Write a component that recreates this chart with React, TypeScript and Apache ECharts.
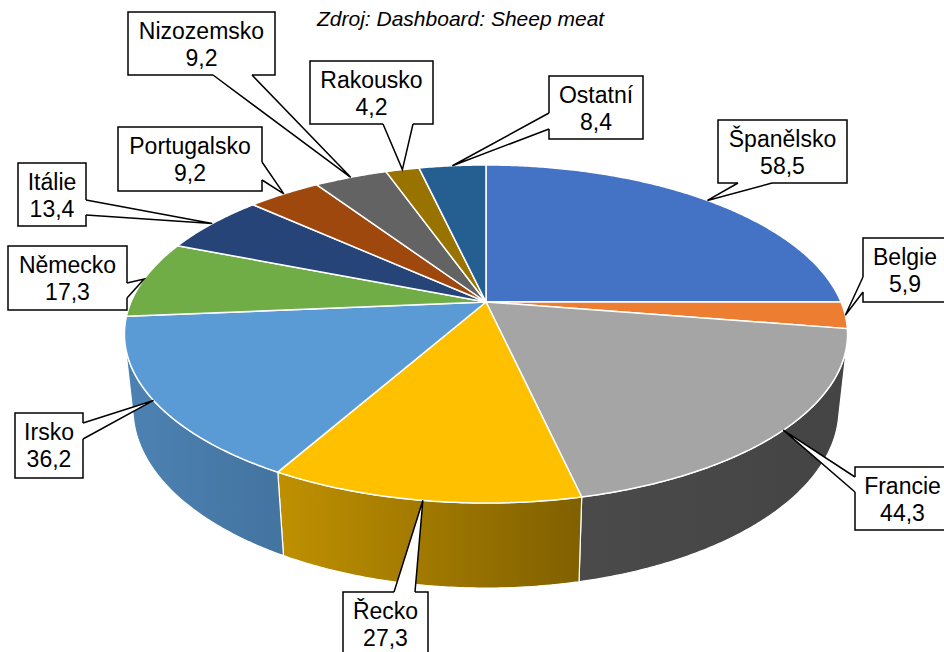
import React, { useEffect, useRef } from 'react';
import * as echarts from 'echarts';

// ---- data ----
const categories = ['Španělsko', 'Belgie', 'Francie', 'Řecko', 'Irsko', 'Německo', 'Itálie', 'Portugalsko', 'Nizozemsko', 'Rakousko', 'Ostatní'];
const values = [58.5, 5.9, 44.3, 27.3, 36.2, 17.3, 13.4, 9.2, 9.2, 4.2, 8.4];
const sourceText = 'Zdroj: Dashboard: Sheep meat';

// ---- styles ----
const colors = ['#4472C4', '#ED7D31', '#A5A5A5', '#FFC000', '#5B9BD5', '#70AD47', '#264478', '#9E480E', '#636363', '#997300', '#255E91'];
// wall shading factors [left, right]
const wallShade: Record<number, [number, number]> = {
  1: [0.5, 0.45],
  2: [0.45, 0.41],
  3: [0.75, 0.5],
  4: [0.84, 0.75],
  5: [0.88, 0.85],
};

// ---- layout (perspective projection of the pie) ----
const CX = 486, CY = 302, F = 1665, D = 4.69;
const SIN = 0.459, COS = 0.888, H = 0.24;
// visible outer-wall range (degrees clockwise from top)
const WALL_VIS = (Math.acos(-1 / (D * COS)) * 180) / Math.PI;
const WALL_LO = WALL_VIS;
const WALL_HI = 360 - WALL_VIS;

// label boxes: [x, y, w, h], side of the pointer, pointer base range along that side
const labelLayout: { box: [number, number, number, number]; side: string; base: [number, number] }[] = [
  { box: [718, 120, 129, 63], side: 'bottom', base: [738, 772] },
  { box: [863, 238, 84, 64], side: 'left', base: [277, 292] },
  { box: [855, 467, 95, 63], side: 'left', base: [477, 492] },
  { box: [343, 592, 85, 66], side: 'top', base: [394, 415] },
  { box: [15, 413, 68, 65], side: 'right', base: [423, 439] },
  { box: [8, 246, 119, 64], side: 'right', base: [283, 298] },
  { box: [18, 163, 68, 63], side: 'right', base: [200, 215] },
  { box: [118, 127, 144, 64], side: 'right', base: [162, 180] },
  { box: [128, 12, 147, 63], side: 'bottom', base: [213, 252] },
  { box: [310, 61, 123, 63], side: 'bottom', base: [383, 413] },
  { box: [549, 76, 94, 63], side: 'left', base: [113, 129] },
];

const total = values.reduce((s, v) => s + v, 0);
const starts: number[] = [];
const ends: number[] = [];
{
  let acc = 0;
  values.forEach((v) => {
    starts.push((acc / total) * 360);
    acc += v;
    ends.push((acc / total) * 360);
  });
}

function proj(r: number, deg: number, h: number): number[] {
  const a = (deg * Math.PI) / 180;
  const x = r * Math.sin(a);
  const z = -r * Math.cos(a);
  const depth = D - z * COS + h * SIN;
  return [CX + (F * x) / depth, CY + (F * (z * SIN + h * COS)) / depth];
}

function shade(hex: string, f: number): string {
  const n = parseInt(hex.slice(1), 16);
  const r = Math.round(((n >> 16) & 255) * f);
  const g = Math.round(((n >> 8) & 255) * f);
  const b = Math.round((n & 255) * f);
  return `rgb(${r},${g},${b})`;
}

function fmt(v: number): string {
  return v.toFixed(1).replace('.', ',');
}

const FONT = '"Liberation Sans", Arial, sans-serif';

export default function App() {
  const ref = useRef<HTMLDivElement>(null);
  useEffect(() => {
    const chart = echarts.init(ref.current!, null, { renderer: 'svg' });
    const data = values.map((v, i) => ({ name: categories[i], value: [i, v] }));

    const option: any = {
      animation: false,
      backgroundColor: '#fff',
      title: {
        text: sourceText,
        left: 317,
        top: 8,
        padding: 0,
        textStyle: { fontStyle: 'italic', fontWeight: 'normal', fontSize: 21, fontFamily: FONT, color: '#000' },
      },
      series: [
        {
          type: 'custom',
          name: 'walls',
          coordinateSystem: 'none',
          z: 1,
          silent: true,
          data,
          renderItem: (params: any, api: any) => {
            const i = params.dataIndex;
            const lo = Math.max(starts[i], WALL_LO);
            const hi = Math.min(ends[i], WALL_HI);
            if (!(hi > lo) || api.value(1) <= 0) return { type: 'group', children: [] };
            const n = Math.max(2, Math.ceil((hi - lo) / 0.5));
            const pts: number[][] = [];
            for (let k = 0; k <= n; k++) pts.push(proj(1, lo + ((hi - lo) * k) / n, 0));
            for (let k = n; k >= 0; k--) pts.push(proj(1, lo + ((hi - lo) * k) / n, H));
            const sh = wallShade[i] || [0.8, 0.6];
            const xl = proj(1, hi, 0)[0];
            const xr = proj(1, lo, 0)[0];
            const grad = new echarts.graphic.LinearGradient(
              Math.min(xl, xr), 0, Math.max(xl, xr) + 1, 0,
              [
                { offset: 0, color: shade(colors[i], sh[0]) },
                { offset: 1, color: shade(colors[i], sh[1]) },
              ],
              true
            );
            return {
              type: 'polygon',
              shape: { points: pts },
              style: { fill: grad, stroke: '#ffffff', lineWidth: 1.2, lineJoin: 'round' },
            };
          },
        },
        {
          type: 'custom',
          name: 'tops',
          coordinateSystem: 'none',
          z: 2,
          silent: true,
          data,
          renderItem: (params: any, api: any) => {
            const i = params.dataIndex;
            const a = starts[i];
            const b = ends[i];
            const n = Math.max(2, Math.ceil((b - a) / 0.5));
            const pts: number[][] = [proj(0, 0, 0)];
            for (let k = 0; k <= n; k++) pts.push(proj(1, a + ((b - a) * k) / n, 0));
            return {
              type: 'polygon',
              shape: { points: pts },
              style: { fill: colors[i], stroke: '#ffffff', lineWidth: 1.5, lineJoin: 'round' },
            };
          },
        },
        {
          type: 'custom',
          name: 'labels',
          coordinateSystem: 'none',
          z: 3,
          silent: true,
          data,
          renderItem: (params: any, api: any) => {
            const i = params.dataIndex;
            const L = labelLayout[i];
            const [x, y, w, h] = L.box;
            const apex = proj(1, (starts[i] + ends[i]) / 2, 0);
            let b1: number[], b2: number[], i1: number[], i2: number[];
            const [p, q] = L.base;
            if (L.side === 'bottom') {
              b1 = [p, y + h]; b2 = [q, y + h]; i1 = [p, y + h - 3]; i2 = [q, y + h - 3];
            } else if (L.side === 'top') {
              b1 = [p, y]; b2 = [q, y]; i1 = [p, y + 3]; i2 = [q, y + 3];
            } else if (L.side === 'left') {
              b1 = [x, p]; b2 = [x, q]; i1 = [x + 3, p]; i2 = [x + 3, q];
            } else {
              b1 = [x + w, p]; b2 = [x + w, q]; i1 = [x + w - 3, p]; i2 = [x + w - 3, q];
            }
            const tx = x + w / 2;
            return {
              type: 'group',
              children: [
                {
                  type: 'rect',
                  shape: { x, y, width: w, height: h },
                  style: { fill: '#fff', stroke: '#000', lineWidth: 1.5 },
                },
                {
                  type: 'polygon',
                  shape: { points: [i1, b1, apex, b2, i2] },
                  style: { fill: '#fff', stroke: null },
                },
                {
                  type: 'polyline',
                  shape: { points: [b1, apex, b2] },
                  style: { fill: null, stroke: '#000', lineWidth: 1.5, lineJoin: 'miter' },
                },
                {
                  type: 'text',
                  style: {
                    text: categories[i],
                    x: tx,
                    y: y + 19,
                    textAlign: 'center',
                    textVerticalAlign: 'middle',
                    fontSize: 23,
                    fontFamily: FONT,
                    fill: '#000',
                  },
                },
                {
                  type: 'text',
                  style: {
                    text: fmt(api.value(1)),
                    x: tx,
                    y: y + 46,
                    textAlign: 'center',
                    textVerticalAlign: 'middle',
                    fontSize: 23,
                    fontFamily: FONT,
                    fill: '#000',
                  },
                },
              ],
            };
          },
        },
      ],
    };
    chart.setOption(option);
    return () => chart.dispose();
  }, []);
  return (
    <div
      ref={ref}
      style={{ position: 'fixed', left: 0, top: 0, width: 944, height: 652, background: '#fff' }}
    />
  );
}
